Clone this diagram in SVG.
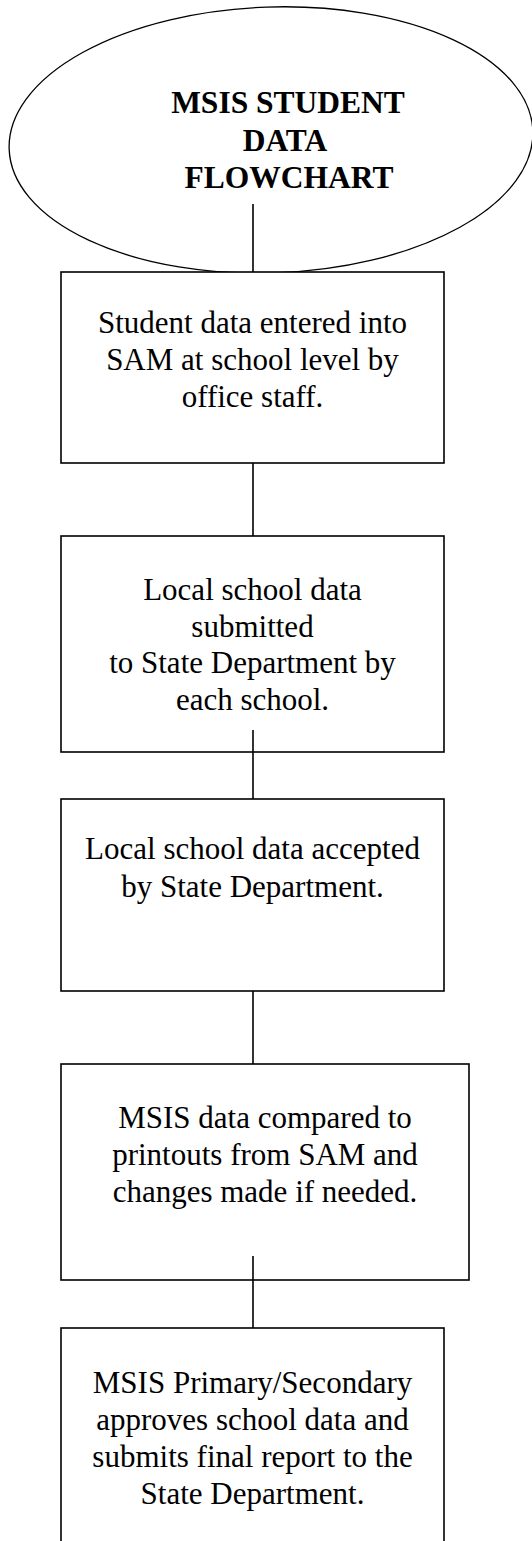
<svg xmlns="http://www.w3.org/2000/svg" width="532" height="1541" viewBox="0 0 532 1541">
<style>
  .box { fill: #ffffff; stroke: #000000; stroke-width: 1.6; }
  .ell { fill: #ffffff; stroke: #000000; stroke-width: 1.3; }
  .conn { stroke: #000000; stroke-width: 1.6; fill: none; }
  .t { font-family: "Liberation Serif", "Times New Roman", serif; font-size: 31px; fill: #000000; text-anchor: middle; }
  .tb { font-family: "Liberation Serif", "Times New Roman", serif; font-size: 31.5px; font-weight: bold; fill: #000000; text-anchor: middle; }
</style>
<rect x="0" y="0" width="532" height="1541" fill="#ffffff"/>
<g id="start">
  <ellipse class="ell" cx="271" cy="140" rx="262" ry="133" transform="rotate(-2 271 140)"/>
  <text class="tb" x="288" y="113">MSIS STUDENT</text>
  <text class="tb" x="285" y="151">DATA</text>
  <text class="tb" x="289" y="188">FLOWCHART</text>
</g>
<g id="step1">
  <rect class="box" x="61" y="272" width="383" height="191"/>
  <text class="t" x="252.5" y="333">Student data entered into</text>
  <text class="t" x="252.5" y="370">SAM at school level by</text>
  <text class="t" x="252.5" y="407">office staff.</text>
</g>
<g id="step2">
  <rect class="box" x="61" y="536" width="383" height="216"/>
  <text class="t" x="252.5" y="600">Local school data</text>
  <text class="t" x="252.5" y="637">submitted</text>
  <text class="t" x="252.5" y="673">to State Department by</text>
  <text class="t" x="252.5" y="710">each school.</text>
</g>
<g id="step3">
  <rect class="box" x="61" y="799" width="383" height="192"/>
  <text class="t" x="252.5" y="859">Local school data accepted</text>
  <text class="t" x="252.5" y="897">by State Department.</text>
</g>
<g id="step4">
  <rect class="box" x="61" y="1064" width="408" height="216"/>
  <text class="t" x="265" y="1128">MSIS data compared to</text>
  <text class="t" x="265" y="1165">printouts from SAM and</text>
  <text class="t" x="265" y="1202">changes made if needed.</text>
</g>
<g id="step5">
  <rect class="box" x="61" y="1328" width="383" height="230"/>
  <text class="t" x="252.5" y="1393">MSIS Primary/Secondary</text>
  <text class="t" x="252.5" y="1430">approves school data and</text>
  <text class="t" x="252.5" y="1467">submits final report to the</text>
  <text class="t" x="252.5" y="1504">State Department.</text>
</g>
<g id="connectors">
  <line class="conn" x1="253" y1="204" x2="253" y2="272"/>
  <line class="conn" x1="253" y1="463" x2="253" y2="536"/>
  <line class="conn" x1="253" y1="730" x2="253" y2="799"/>
  <line class="conn" x1="253" y1="991" x2="253" y2="1064"/>
  <line class="conn" x1="253" y1="1256" x2="253" y2="1328"/>
</g>
</svg>
